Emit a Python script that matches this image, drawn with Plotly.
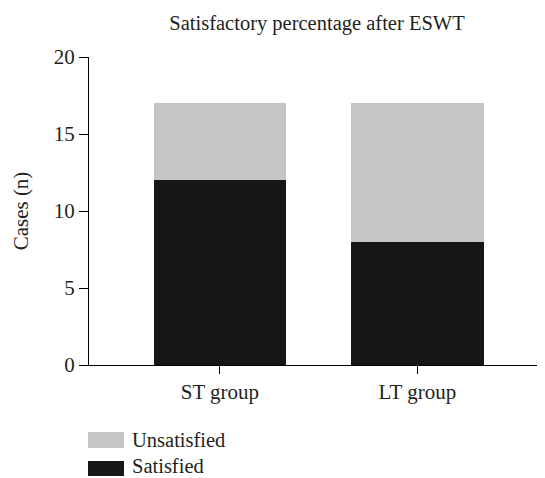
import plotly.graph_objects as go

categories = ["ST group", "LT group"]
satisfied = [12, 8]
unsatisfied = [5, 9]
y_ticks = [0, 5, 10, 15, 20]

FONT = "Liberation Serif"
TXT = "#231f20"
GRAY = "#c4c5c4"
BLACK = "#161616"

fig = go.Figure()
fig.add_trace(go.Bar(x=categories, y=satisfied, name="Satisfied",
                     marker=dict(color=BLACK, line=dict(width=0)), width=0.67))
fig.add_trace(go.Bar(x=categories, y=unsatisfied, name="Unsatisfied",
                     marker=dict(color=GRAY, line=dict(width=0)), width=0.67))

OFF = 8  # page body margin
W, H = 545 - OFF, 478 - OFF
ml, mr, mt, mb = 89 - OFF, 0, 57 - OFF, 113
pw = W - ml - mr
ph = H - mt - mb

def px_x(x):
    return (x - OFF - ml) / pw

def px_y(y):
    return (mt + ph - (y - OFF)) / ph

shapes = []
annotations = []
legend_items = [("Unsatisfied", GRAY, 432, 448, 440), ("Satisfied", BLACK, 461, 476, 466)]
for name, col, y0, y1, yc in legend_items:
    shapes.append(dict(type="rect", xref="paper", yref="paper",
                       x0=px_x(88), x1=px_x(124), y0=px_y(y1), y1=px_y(y0),
                       fillcolor=col, line=dict(width=0)))
    annotations.append(dict(text=name, xref="paper", yref="paper",
                            x=px_x(131), y=px_y(yc), xanchor="left", yanchor="middle",
                            borderpad=0,
                            showarrow=False, font=dict(family=FONT, size=20.5, color=TXT)))

fig.update_layout(
    width=W, height=H,
    barmode="stack",
    showlegend=False,
    plot_bgcolor="white", paper_bgcolor="white",
    margin=dict(l=ml, r=mr, t=mt, b=mb),
    title=dict(text="Satisfactory percentage after ESWT", x=(ml + pw / 2) / W, xanchor="center",
               y=1 - (23 - OFF) / H, yanchor="middle", yref="container",
               font=dict(family=FONT, size=20.5, color=TXT)),
    font=dict(family=FONT, size=21, color=TXT),
    shapes=shapes,
    annotations=annotations,
)
fig.update_xaxes(type="category", range=[-0.663, 1.646], showline=True, linecolor="black",
                 linewidth=1.3, ticks="outside", ticklen=8, tickcolor="black", tickwidth=1.3,
                 showgrid=False, zeroline=False, tickfont=dict(family=FONT, size=21, color=TXT))
fig.update_yaxes(range=[0, 20], tickvals=y_ticks, showline=True, linecolor="black",
                 linewidth=1.3, ticks="outside", ticklen=9, tickcolor="black", tickwidth=1.3,
                 showgrid=False, zeroline=False,
                 title=dict(text="Cases (n)", standoff=19, font=dict(family=FONT, size=21, color=TXT)),
                 tickfont=dict(family=FONT, size=21, color=TXT))

fig.write_html("out.html")
